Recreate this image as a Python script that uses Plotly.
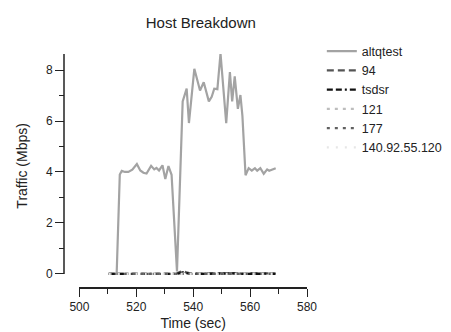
import plotly.graph_objects as go

# ---- data ----
t_alt = [510.4, 513.1, 514.2, 514.9, 516.0, 517.2, 518.6, 520.2, 521.4, 522.5, 523.6,
         525.2, 526.3, 527.1, 528.0, 529.2, 530.2, 531.3, 532.4, 534.3, 536.3, 537.7,
         538.5, 540.4, 542.4, 543.7, 545.5, 546.5, 547.4, 548.5, 549.6, 551.6, 552.9,
         553.7, 554.6, 555.7, 556.6, 557.3, 558.4, 559.5, 560.6, 561.7, 562.5, 563.6,
         564.8, 566.0, 566.7, 567.8, 569.0]
v_alt = [0.0, 0.0, 3.9, 4.04, 4.0, 4.0, 4.09, 4.31, 4.06, 3.97, 3.94,
         4.24, 4.1, 4.16, 4.06, 4.26, 3.72, 4.23, 3.89, 0.1, 6.77, 7.27,
         5.92, 8.05, 7.2, 7.52, 6.77, 6.95, 7.27, 7.25, 8.65, 5.92, 7.92,
         6.77, 7.75, 6.48, 7.02, 6.2, 3.87, 4.15, 4.05, 4.15, 4.05, 4.15,
         3.93, 4.1, 4.05, 4.1, 4.15]

t_small = [510.3, 513, 516, 519, 522, 525, 528, 531, 534, 535.5, 536.5, 537.5, 539,
           542, 545, 548, 551, 554, 557, 560, 563, 566, 569]
v_94 = [0, 0, 0, 0, 0, 0, 0, 0, 0, 0.08, 0.12, 0.06, 0.02,
        0.01, 0.02, 0.03, 0.02, 0.03, 0.01, 0.02, 0.01, 0.02, 0.01]
v_tsdsr = [0, 0, 0, 0, 0, 0, 0, 0, 0, 0.03, 0.06, 0.03, 0.0,
           0, 0.01, 0.02, 0.01, 0.02, 0, 0.01, 0, 0.01, 0]
v_121 = [0] * 23
v_177 = [0] * 23
v_140 = [0] * 23

x_ticks = [500, 520, 540, 560, 580]
y_ticks = [0, 2, 4, 6, 8]

series = [
    ("altqtest", t_alt, v_alt, "#a3a3a3", 2.2, "solid"),
    ("94", t_small, v_94, "#555555", 2.4, "7px,4px"),
    ("tsdsr", t_small, v_tsdsr, "#111111", 2.4, "6px,3px,6px,3px,2px,3px"),
    ("121", t_small, v_121, "#bdbdbd", 2.4, "3px,5px"),
    ("177", t_small, v_177, "#606060", 2.4, "3px,5px"),
    ("140.92.55.120", t_small, v_140, "#e6e6e6", 2.4, "2px,7px"),
]

fig = go.Figure()
for name, xs, ys, col, w, dash in series:
    fig.add_trace(go.Scatter(x=xs, y=ys, name=name, mode="lines",
                             line=dict(color=col, width=w, dash=dash)))

FONT = "Liberation Sans, Arial, sans-serif"
W, H = 451, 332
ml, mr, mt, mb = 56, 451 - 313.3, 45.7, 332 - 289
pw = W - ml - mr
ph = H - mt - mb

fig.update_layout(
    width=W, height=H,
    margin=dict(l=ml, r=mr, t=mt, b=mb, pad=0),
    paper_bgcolor="white", plot_bgcolor="white",
    font=dict(family=FONT, size=12, color="#222"),
    title=dict(text="Host Breakdown", x=192.8 / W, xanchor="center",
               y=1 - 14.5 / H, yanchor="middle", font=dict(size=15, color="#222")),
    showlegend=True,
    legend=dict(x=(329 - ml) / pw, xanchor="left", y=(H - mb - 27.5) / ph, yanchor="top",
                font=dict(size=12.5, color="#222"), bgcolor="rgba(0,0,0,0)",
                itemwidth=30, tracegroupgap=0),
    xaxis=dict(range=[500, 580], domain=[(72.3 - 56) / pw, 1], anchor="free", position=0,
               tickvals=x_ticks, ticks="outside", ticklen=8, tickwidth=1.3, tickcolor="#222",
               showline=True, linecolor="#222", linewidth=1.5, showgrid=False, zeroline=False,
               minor=dict(dtick=10, ticks="outside", ticklen=5, tickwidth=1.3, tickcolor="#222"),
               tickfont=dict(size=12),
               title=dict(text="Time (sec)", font=dict(size=14), standoff=4)),
    yaxis=dict(range=[-0.15, 8.63], domain=[(289 - 278.3) / ph, 1], anchor="free", position=0,
               tickvals=y_ticks, ticks="outside", ticklen=9, tickwidth=1.3, tickcolor="#222",
               showline=False, showgrid=False, zeroline=False,
               minor=dict(dtick=1, ticks="outside", ticklen=5, tickwidth=1.3, tickcolor="#222"),
               tickfont=dict(size=12),
               title=dict(text="Traffic (Mbps)", font=dict(size=14), standoff=14)),
)

# y-axis line spanning from 0 to top of the axis
fig.add_shape(type="line", xref="paper", yref="y", x0=0, x1=0, y0=0, y1=8.63,
              line=dict(color="#222", width=1.5))

fig.write_html("out.html")
